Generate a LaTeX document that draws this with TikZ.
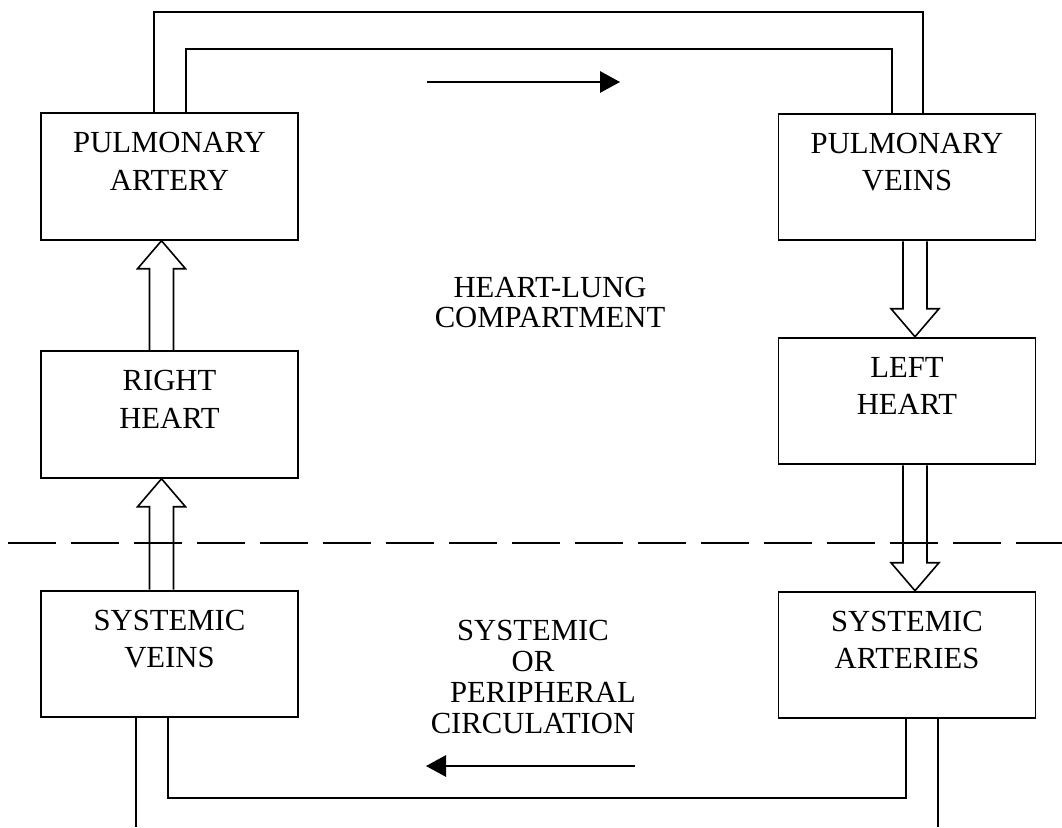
\documentclass[tikz,border=0pt]{standalone}
\usepackage{fontspec}
\setmainfont{Liberation Serif}
\usetikzlibrary{arrows.meta,calc}
\tikzset{
  box/.style={draw, line width=1.4pt, minimum width=192.75pt, minimum height=95pt, inner sep=0pt},
  lbl/.style={align=center, inner sep=0pt, font=\fontsize{23}{28}\selectfont},
  midtxt/.style={align=center, inner sep=0pt, font=\fontsize{23}{22.5}\selectfont},
  lowtxt/.style={align=center, inner sep=0pt, font=\fontsize{23}{23.25}\selectfont},
  pipe/.style={line width=1.1pt},
  fat/.style={line width=1.2pt, line join=miter},
  flow/.style={line width=1.4pt, -{Triangle[length=15pt,width=16pt]}},
  sep/.style={line width=1.1pt, dash pattern=on 36pt off 11.25pt}
}
\newcommand\fatup[3]{%
  \draw[fat] ([xshift=#3-9pt]#1.north) -- ([xshift=#3-9pt,yshift=-21pt]#2.south)
    -- ([xshift=#3-18pt,yshift=-21pt]#2.south) -- ([xshift=#3]#2.south)
    -- ([xshift=#3+18pt,yshift=-21pt]#2.south) -- ([xshift=#3+9pt,yshift=-21pt]#2.south)
    -- ([xshift=#3+9pt]#1.north);}
\newcommand\fatdown[3]{%
  \draw[fat] ([xshift=#3-9pt]#1.south) -- ([xshift=#3-9pt,yshift=21pt]#2.north)
    -- ([xshift=#3-18pt,yshift=21pt]#2.north) -- ([xshift=#3]#2.north)
    -- ([xshift=#3+18pt,yshift=21pt]#2.north) -- ([xshift=#3+9pt,yshift=21pt]#2.north)
    -- ([xshift=#3+9pt]#1.south);}
\begin{document}
\begin{tikzpicture}[x=0.75pt,y=-0.75pt]
\useasboundingbox (0,0) rectangle (1062,827);
% boxes
\node[box] (pa) at (169.5,176.5) {};
\node[box] (rh) at (169.5,414.5) {};
\node[box] (sv) at (169.5,654) {};
\node[box] (pv) at (907,177) {};
\node[box] (lh) at (907,401) {};
\node[box] (sa) at (907,655) {};
% labels
\node[lbl] (tpa) at ([yshift=11.25pt]pa.center) {PULMONARY\\ARTERY};
\node[lbl] (trh) at ([yshift=11.25pt]rh.center) {RIGHT\\HEART};
\node[lbl] (tsv) at ([yshift=11.25pt]sv.center) {SYSTEMIC\\VEINS};
\node[lbl] (tpv) at ([yshift=11.25pt]pv.center) {PULMONARY\\VEINS};
\node[lbl] (tlh) at ([yshift=11.25pt]lh.center) {LEFT\\HEART};
\node[lbl] (tsa) at ([yshift=11.25pt]sa.center) {SYSTEMIC\\ARTERIES};
\node[midtxt] (hl) at (550,302) {HEART-LUNG\\COMPARTMENT};
\node[lowtxt] (sc) at (533,676.5) {SYSTEMIC\\OR\\\hspace*{15pt}PERIPHERAL\\CIRCULATION};
% pipes top
\coordinate (otl) at (154,12);
\coordinate (otr) at (923,12);
\coordinate (itl) at (186,49);
\coordinate (itr) at (892,49);
\draw[pipe] (otl |- pa.north) -- (otl) -- (otr) -- (otr |- pv.north);
\draw[pipe] (itl |- pa.north) -- (itl) -- (itr) -- (itr |- pv.north);
% pipes bottom
\coordinate (obl) at (136,827);
\coordinate (obr) at (938,827);
\coordinate (ibl) at (168,798);
\coordinate (ibr) at (906,798);
\draw[pipe] (obl |- sv.south) -- (obl);
\draw[pipe] (obr |- sa.south) -- (obr);
\draw[pipe] (ibl |- sv.south) -- (ibl) -- (ibr) -- (ibr |- sa.south);
% fat arrows
\fatup{rh}{pa}{-6pt}
\fatup{sv}{rh}{-6pt}
\fatdown{pv}{lh}{6pt}
\fatdown{lh}{sa}{6pt}
% flow arrows
\coordinate (fa1) at (427,82);
\coordinate (fa2) at (620,82);
\coordinate (fb1) at (635,766);
\coordinate (fb2) at (426,766);
\draw[flow] (fa1) -- (fa2);
\draw[flow] (fb1) -- (fb2);
% separator
\coordinate (d1) at (8,543);
\coordinate (d2) at (1062,543);
\draw[sep] (d1) -- (d2);
\end{tikzpicture}
\end{document}
